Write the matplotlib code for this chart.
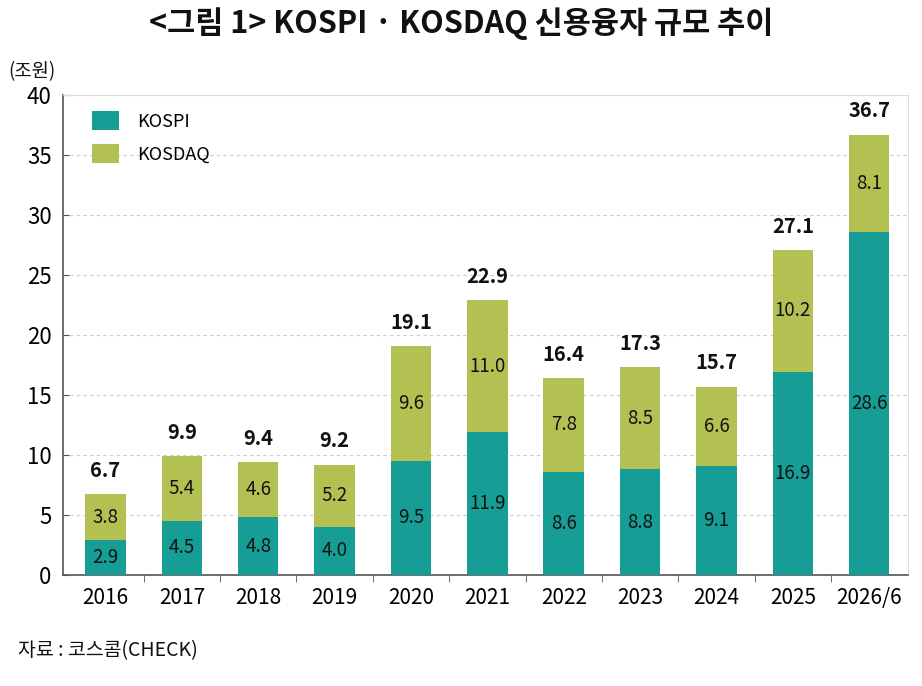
import matplotlib
matplotlib.use("Agg")
import matplotlib.pyplot as plt
import numpy as np

plt.rcParams['font.family'] = ['Noto Sans CJK KR', 'DejaVu Sans']

years = ["2016", "2017", "2018", "2019", "2020", "2021", "2022", "2023", "2024", "2025", "2026/6"]
kospi = [2.9, 4.5, 4.8, 4.0, 9.5, 11.9, 8.6, 8.8, 9.1, 16.9, 28.6]
kosdaq = [3.8, 5.4, 4.6, 5.2, 9.6, 11.0, 7.8, 8.5, 6.6, 10.2, 8.1]
totals = [6.7, 9.9, 9.4, 9.2, 19.1, 22.9, 16.4, 17.3, 15.7, 27.1, 36.7]

c_kospi = "#169e96"
c_kosdaq = "#b3c153"

fig = plt.figure(figsize=(9.22, 6.86), dpi=100)
ax = fig.add_axes([0.068, 0.162, 0.917, 0.6995])

x = np.arange(len(years))
w = 0.53
ax.bar(x, kospi, w, color=c_kospi, label="KOSPI", zorder=3)
ax.bar(x, kosdaq, w, bottom=kospi, color=c_kosdaq, label="KOSDAQ", zorder=3)

for i in range(len(years)):
    ax.text(x[i], kospi[i] / 2, f"{kospi[i]:.1f}", ha="center", va="center",
            fontsize=13.5, color="#111111", zorder=4)
    ax.text(x[i], kospi[i] + kosdaq[i] / 2, f"{kosdaq[i]:.1f}", ha="center", va="center",
            fontsize=13.5, color="#111111", zorder=4)
    ax.text(x[i], kospi[i] + kosdaq[i] + 1.1, f"{totals[i]:.1f}", ha="center", va="bottom",
            fontsize=14.5, fontweight="bold", color="#111111", zorder=4)

ax.set_xlim(-0.56, 10.51)
ax.set_ylim(0, 40)
ax.set_yticks(range(0, 41, 5))
ax.set_xticks(x)
ax.set_xticklabels(years)
ax.set_xticks(np.arange(0.5, 10.5, 1), minor=True)
ax.tick_params(axis="x", which="major", length=0, labelsize=15, pad=9)
ax.tick_params(axis="x", which="minor", length=5, direction="out", color="#555555")
ax.tick_params(axis="y", length=4, direction="in", labelsize=16, pad=8, color="#555555")

ax.yaxis.grid(True, linestyle=(0, (3, 3)), color="#cccccc", linewidth=0.8, zorder=0)

for s in ["left", "bottom"]:
    ax.spines[s].set_color("#555555")
    ax.spines[s].set_linewidth(1.2)
for s in ["top", "right"]:
    ax.spines[s].set_color("#dddddd")
    ax.spines[s].set_linewidth(0.8)

ax.legend(loc="upper left", frameon=False, fontsize=13, handlelength=1.5, handleheight=1.2,
          borderaxespad=0.5, labelspacing=0.75, handletextpad=1.0,
          bbox_to_anchor=(0.015, 1.0))

fig.text(0.5, 0.965, "<그림 1> KOSPI · KOSDAQ 신용융자 규모 추이", ha="center", va="center",
         fontsize=22, fontweight="bold", color="#111111")
fig.text(0.009, 0.895, "(조원)", ha="left", va="center", fontsize=13.5, color="#111111")
fig.text(0.02, 0.052, "자료 : 코스콤(CHECK)", ha="left", va="center", fontsize=14, color="#111111")

fig.savefig("out.png", dpi=100)
